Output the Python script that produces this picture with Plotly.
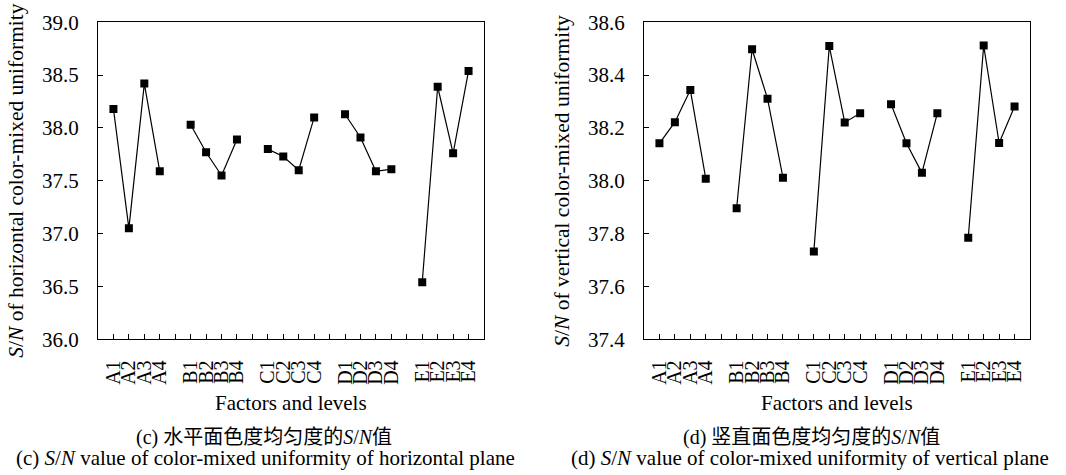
import plotly.graph_objects as go

factors = ["A", "B", "C", "D", "E"]
levels = ["1", "2", "3", "4"]
sn_horizontal = [
    [38.18, 37.05, 38.42, 37.59],
    [38.03, 37.77, 37.55, 37.89],
    [37.80, 37.73, 37.60, 38.10],
    [38.13, 37.91, 37.59, 37.61],
    [36.54, 38.39, 37.76, 38.54],
]
sn_vertical = [
    [38.142, 38.222, 38.344, 38.008],
    [37.896, 38.498, 38.311, 38.012],
    [37.732, 38.510, 38.221, 38.256],
    [38.290, 38.142, 38.030, 38.256],
    [37.784, 38.512, 38.143, 38.281],
]
yticks_h = [36.0, 36.5, 37.0, 37.5, 38.0, 38.5, 39.0]
yticks_v = [37.4, 37.6, 37.8, 38.0, 38.2, 38.4, 38.6]

FONT = "'Liberation Serif', 'Times New Roman', Times, serif"
CJK = "'Liberation Serif', 'Noto Sans CJK SC', serif"

# category positions: 4 levels per factor, one empty slot between groups
tickvals, ticktext = [], []
group_x = []
pos = 1
for gi, f in enumerate(factors):
    xs = []
    for lv in levels:
        tickvals.append(pos)
        ticktext.append(f + lv)
        xs.append(pos)
        pos += 1
    group_x.append(xs)
    if gi < len(factors) - 1:
        tickvals.append(pos)
        ticktext.append("")
        pos += 1

fig = go.Figure()
for panel, data in (("1", sn_horizontal), ("2", sn_vertical)):
    for gi, f in enumerate(factors):
        fig.add_trace(go.Scatter(
            x=group_x[gi], y=data[gi], mode="lines+markers",
            line=dict(color="black", width=1.2),
            marker=dict(symbol="square", size=8, color="black"),
            xaxis="x" + ("" if panel == "1" else "2"),
            yaxis="y" + ("" if panel == "1" else "2"),
            showlegend=False, hoverinfo="x+y",
        ))

W, H = 1066, 475
ydom = [(H - 339.3) / H, (H - 22.3) / H]
common_x = dict(
    range=[0, 25], tickmode="array", tickvals=tickvals, ticktext=ticktext,
    tickangle=-90, ticks="inside", ticklen=5, tickcolor="black", tickwidth=1,
    showline=True, linecolor="black", linewidth=1.2, mirror=True,
    showgrid=False, zeroline=False, ticklabelstandoff=12, automargin=False,
    tickfont=dict(family=FONT, size=20, color="black"),
)
common_y = dict(
    ticks="inside", ticklen=5, tickcolor="black", tickwidth=1,
    showline=True, linecolor="black", linewidth=1.2, mirror=True,
    showgrid=False, zeroline=False, tickformat=".1f", ticklabelstandoff=14,
    automargin=False,
    tickfont=dict(family=FONT, size=21, color="black"),
)
fig.update_layout(
    width=W, height=H, margin=dict(l=0, r=0, t=0, b=0, pad=0), autosize=False,
    paper_bgcolor="white", plot_bgcolor="white",
    font=dict(family=FONT, color="black"),
    xaxis=dict(domain=[98 / W, 484 / W], anchor="y", **common_x),
    yaxis=dict(domain=ydom, anchor="x", range=[36.0, 39.0], tickvals=yticks_h, **common_y),
    xaxis2=dict(domain=[644 / W, 1030 / W], anchor="y2", **common_x),
    yaxis2=dict(domain=ydom, anchor="x2", range=[37.4, 38.6], tickvals=yticks_v, **common_y),
)

def ann(text, x, y, size, angle=0, family=FONT):
    fig.add_annotation(text=text, x=x / W, y=1 - y / H, xref="paper", yref="paper",
                       showarrow=False, textangle=angle, xanchor="center", yanchor="middle",
                       font=dict(family=family, size=size, color="black"))

ann("<i>S</i>/<i>N</i> of horizontal color-mixed uniformity", 16, 180.7, 21.5, -90)
ann("<i>S</i>/<i>N</i> of vertical color-mixed uniformity", 562, 180.7, 21.5, -90)
ann("Factors and levels", 291, 403, 21)
ann("Factors and levels", 837, 403, 21)
ann("(c) 水平面色度均匀度的<i>S</i>/<i>N</i>值", 264, 437, 20, family=CJK)
ann("(c) <i>S</i>/<i>N</i> value of color-mixed uniformity of horizontal plane", 265, 458, 21)
ann("(d) 竖直面色度均匀度的<i>S</i>/<i>N</i>值", 811, 437, 20, family=CJK)
ann("(d) <i>S</i>/<i>N</i> value of color-mixed uniformity of vertical plane", 810, 458, 21)

fig.write_html("out.html", config={"displayModeBar": False},
               post_script="document.body.style.margin='0px';")
